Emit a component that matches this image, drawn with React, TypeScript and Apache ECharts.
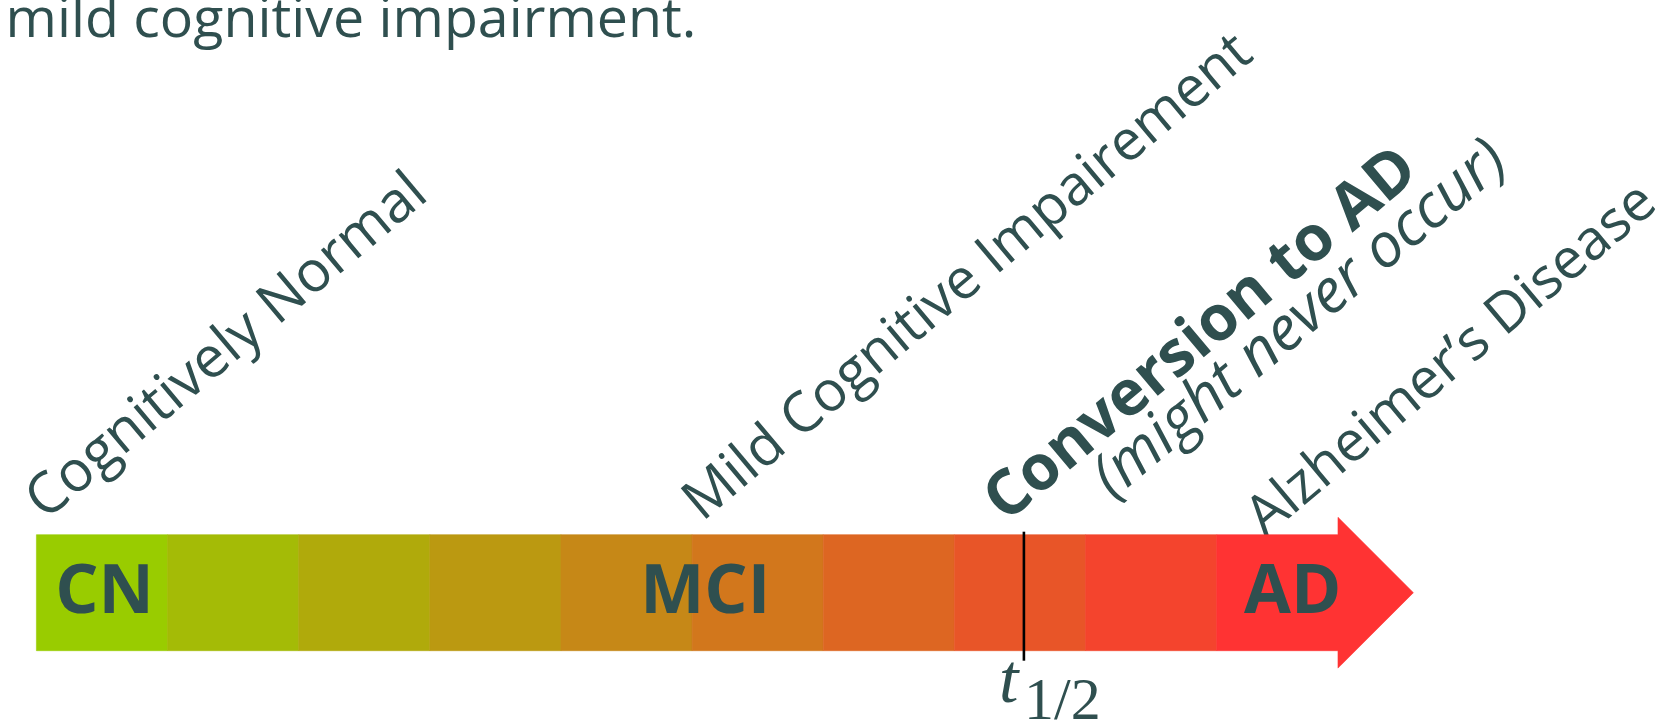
import React, { useEffect, useRef } from 'react';
import * as echarts from 'echarts';

// ---- data ----
const segmentStart = [0, 1, 2, 3, 4, 5, 6, 7, 8, 9];
const segmentEnd = [1, 2, 3, 4, 5, 6, 7, 8, 9, 9.925];
const segmentColors = ['#99CC00', '#A4BB06', '#B0AA0B', '#BB9911', '#C68817', '#D2771C', '#DD6622', '#E85528', '#F4442D', '#FF3333'];
const arrowTip = 10.5;
const arrowHeadTop = 1.15;
const arrowHeadBottom = -0.15;
const stageNames = ['CN', 'MCI', 'AD'];
const stagePositions = [0.52, 5.1, 9.58];
const tHalf = 7.53;
const subtitle = 'mild cognitive impairment.';
const annotationTexts = ['Cognitively Normal', 'Mild Cognitive Impairement', 'Conversion to AD', '(might never occur)', 'Alzheimer\u2019s Disease'];

const TEXT = '#2F4F4F';
const SANS = '"Open Sans", "Noto Sans", sans-serif';
const SERIF = '"Liberation Serif", "DejaVu Serif", serif';
const ROT = (40 * Math.PI) / 180;

function txt(style: any) {
  const s: any = { fill: TEXT, fontFamily: SANS, align: 'left', textAlign: 'left', verticalAlign: 'middle', textVerticalAlign: 'middle', ...style };
  return s;
}

export default function App() {
  const ref = useRef<HTMLDivElement>(null);
  useEffect(() => {
    const chart = echarts.init(ref.current!, null, { renderer: 'svg' });
    const segData = segmentStart.map((s, i) => [s, segmentEnd[i], i]);
    chart.setOption({
      animation: false,
      grid: { left: 36.4, top: 534.7, width: 1377, height: 116 },
      xAxis: { type: 'value', min: 0, max: arrowTip, show: false },
      yAxis: { type: 'value', min: 0, max: 1, show: false },
      series: [
        {
          type: 'custom',
          silent: true,
          data: segData,
          renderItem: (params: any, api: any) => {
            const s = api.value(0);
            const e = api.value(1);
            const i = api.value(2);
            const color = segmentColors[i];
            if (i === segmentColors.length - 1) {
              const pts = [
                [s, 1], [e, 1], [e, arrowHeadTop], [arrowTip, 0.5], [e, arrowHeadBottom], [e, 0], [s, 0],
              ].map((p) => api.coord(p));
              return { type: 'polygon', shape: { points: pts }, style: { fill: color, stroke: color, lineWidth: 0.6 } };
            }
            const p0 = api.coord([s, 1]);
            const p1 = api.coord([e, 0]);
            return {
              type: 'rect',
              shape: { x: p0[0], y: p0[1], width: p1[0] - p0[0], height: p1[1] - p0[1] },
              style: { fill: color, stroke: color, lineWidth: 0.6 },
            };
          },
        },
        {
          type: 'custom',
          silent: true,
          z: 3,
          data: stagePositions.map((x, i) => [x, i]),
          renderItem: (params: any, api: any) => {
            const p = api.coord([api.value(0), 0.5]);
            return {
              type: 'text',
              x: p[0],
              y: p[1] - 6,
              style: txt({ text: stageNames[api.value(1)], fontSize: 68, fontWeight: 'bold', align: 'center', textAlign: 'center' }),
            };
          },
        },
        {
          type: 'custom',
          silent: true,
          z: 4,
          data: [[tHalf]],
          renderItem: (params: any, api: any) => {
            const top = api.coord([api.value(0), 1]);
            const bot = api.coord([api.value(0), 0]);
            return {
              type: 'line',
              shape: { x1: top[0], y1: top[1] - 3, x2: bot[0], y2: bot[1] + 10 },
              style: { stroke: '#000000', lineWidth: 2.6 },
            };
          },
        },
      ],
      graphic: [
        { type: 'text', x: 5.5, y: 15.5, style: txt({ text: subtitle, fontSize: 55.5 }) },
        { type: 'text', x: 31, y: 504.4, rotation: ROT, style: txt({ text: annotationTexts[0], fontSize: 57 }) },
        { type: 'text', x: 688, y: 505.4, rotation: ROT, style: txt({ text: annotationTexts[1], fontSize: 56 }) },
        { type: 'text', x: 990, y: 504.8, rotation: ROT, style: txt({ text: annotationTexts[2], fontSize: 63, fontWeight: 'bold' }) },
        { type: 'text', x: 1098, y: 482, rotation: ROT, style: txt({ text: annotationTexts[3], fontSize: 61, fontStyle: 'italic' }) },
        { type: 'text', x: 1251, y: 521.4, rotation: ROT, style: txt({ text: annotationTexts[4], fontSize: 56 }) },
        { type: 'text', x: 999, y: 678.4, style: txt({ text: 't', fontSize: 70, fontStyle: 'italic', fontFamily: SERIF }) },
        { type: 'text', x: 1024, y: 699.2, style: txt({ text: '1/2', fontSize: 60, fontFamily: SERIF }) },
      ],
    });
    return () => chart.dispose();
  }, []);
  return <div ref={ref} style={{ position: 'fixed', left: 0, top: 0, width: 1663, height: 722 }} />;
}
